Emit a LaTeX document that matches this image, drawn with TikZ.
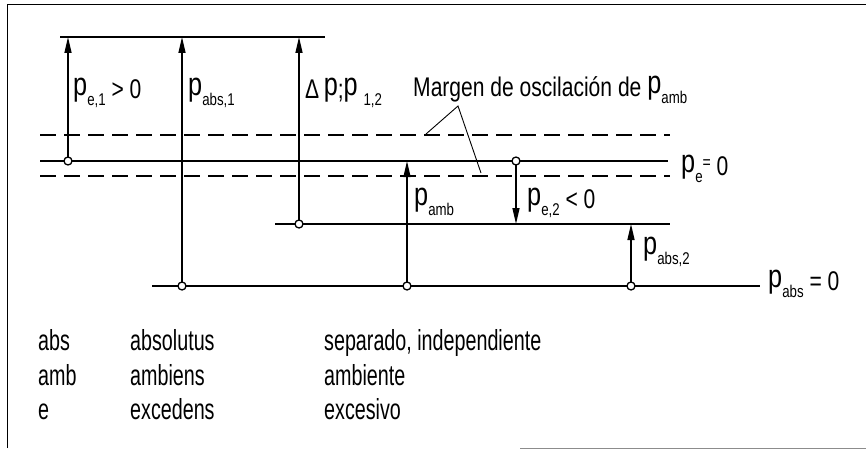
\documentclass[tikz,border=0pt]{standalone}
\usepackage{fontspec}
\setmainfont{Liberation Sans}[FakeStretch=0.78]
\newfontfamily\legendfont{Liberation Sans}[FakeStretch=0.68]
\usetikzlibrary{arrows.meta}
\newcommand{\pp}{\raisebox{0.1em}{\scalebox{1.2}{p}}}
\newcommand{\lowidx}[1]{\raisebox{-0.28em}{\fontsize{17}{17}\selectfont #1}}
\begin{document}
\begin{tikzpicture}[x=1pt,y=-1pt,
  hline/.style={line width=1.7pt},
  dline/.style={line width=1.7pt, dash pattern=on 16pt off 8pt},
  frameline/.style={line width=1pt},
  arr/.style={line width=1.5pt, -{Triangle[length=16pt,width=7pt]}},
  circ/.style={circle, draw, fill=white, line width=1.3pt, inner sep=0pt, minimum size=8pt},
  lab/.style={anchor=base west, inner sep=0pt, font=\fontsize{27}{27}\selectfont},
  leg/.style={anchor=base west, inner sep=0pt, font=\legendfont\fontsize{29}{29}\selectfont},
  leader/.style={line width=0.9pt}]
\useasboundingbox (0,0) rectangle (866,452);
% frame
\draw[frameline] (7,448) -- (7,5) -- (866,5);
\draw[frameline, black!45] (520,448) -- (866,448);
% level lines
\coordinate (t1) at (60,37);   \coordinate (t2) at (325,37);
\coordinate (du1) at (40,135); \coordinate (du2) at (670,135);
\coordinate (e1) at (40,161);  \coordinate (e2) at (668,161);
\coordinate (dl1) at (40,176); \coordinate (dl2) at (670,176);
\coordinate (m1) at (275,224); \coordinate (m2) at (670,224);
\coordinate (a1) at (152,286); \coordinate (a2) at (760,286);
\draw[hline] (t1) -- (t2);
\draw[dline] (du1) -- (du2);
\draw[hline] (e1) -- (e2);
\draw[dline] (dl1) -- (dl2);
\draw[hline] (m1) -- (m2);
\draw[hline] (a1) -- (a2);
% arrow end coordinates
\coordinate (ta) at (68,37);
\coordinate (tb) at (182,37);
\coordinate (tc) at (299,37);
\coordinate (td) at (407,161);
\coordinate (te) at (516,224);
\coordinate (tf) at (631,224);
% arrows
\draw[arr] (68,161) -- (ta);
\draw[arr] (182,286) -- (tb);
\draw[arr] (299,224) -- (tc);
\draw[arr] (407,286) -- (td);
\draw[arr] (516,161) -- (te);
\draw[arr] (631,286) -- (tf);
% circles
\node[circ] (ca) at (68,161) {};
\node[circ] (cb) at (182,286) {};
\node[circ] (cc) at (299,224) {};
\node[circ] (cd) at (407,286) {};
\node[circ] (ce) at (516,161) {};
\node[circ] (cf) at (631,286) {};
% leader lines
\coordinate (apex) at (458,106);
\coordinate (l1) at (426,134);
\coordinate (l2) at (481,173);
\draw[leader] (l1) -- (apex) -- (l2);
% labels
\node[lab] (La) at (73,98) {\pp\lowidx{e,1} {>} 0};
\node[lab] (Lb) at (188,98) {\pp\lowidx{abs,1}};
\node[lab] (Lc) at (305,98) {{\fontsize{27}{27}\selectfont Δ}\,\pp;\pp\ \lowidx{1,2}};
\node[lab] (Lm) at (413,96) {Margen de oscilación de \pp\lowidx{amb}};
\node[lab] (Ld) at (414,208) {\pp\lowidx{amb}};
\node[lab] (Le) at (527,208) {\pp\lowidx{e,2} {<} 0};
\node[lab] (Lf) at (643,257) {\pp\lowidx{abs,2}};
\node[lab] (Lg) at (681,175) {\pp\lowidx{e}\raisebox{0.25em}{\fontsize{18}{18}\selectfont =} 0};
\node[lab] (Lh) at (768,290) {\pp\lowidx{abs} = 0};
% legend
\node[leg] (g1) at (38,350) {abs};
\node[leg] (g2) at (130,350) {absolutus};
\node[leg] (g3) at (324,350) {separado, independiente};
\node[leg] (g4) at (38,385) {amb};
\node[leg] (g5) at (130,385) {ambiens};
\node[leg] (g6) at (324,385) {ambiente};
\node[leg] (g7) at (38,419) {e};
\node[leg] (g8) at (130,419) {excedens};
\node[leg] (g9) at (324,419) {excesivo};
\end{tikzpicture}
\end{document}
